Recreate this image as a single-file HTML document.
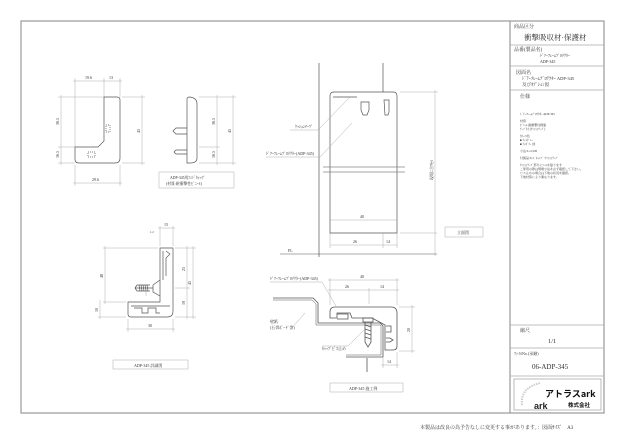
<!DOCTYPE html>
<html><head><meta charset="utf-8"><style>
html,body{margin:0;padding:0;background:#fff;width:624px;height:442px;overflow:hidden}
svg{display:block}
text{font-family:"Liberation Serif","Noto Serif CJK SC","Noto Sans CJK JP",serif;fill:#333}
</style></head><body>
<svg width="624" height="442" viewBox="0 0 624 442" xmlns="http://www.w3.org/2000/svg">
<g fill="none" stroke="#999" stroke-width="1.2">
<rect x="21" y="21" width="583" height="392"/>
<line x1="510" y1="21" x2="510" y2="413"/>
</g>
<!-- title block -->
<g fill="none" stroke="#aaa" stroke-width="0.8">
<line x1="510" y1="45" x2="604" y2="45"/>
<line x1="510" y1="66" x2="604" y2="66"/>
<line x1="510" y1="90" x2="604" y2="90"/>
<line x1="510" y1="325" x2="604" y2="325"/>
<line x1="510" y1="348" x2="604" y2="348"/>
<line x1="510" y1="376" x2="604" y2="376"/>
<rect x="514" y="379" width="87" height="31"/>
</g>
<g font-size="5">
<text x="514" y="28">商品区分</text>
<text x="524" y="40" font-size="7.5">衝撃吸収材·保護材</text>
<text x="514" y="51">品番(製品名)</text>
<text x="540" y="57" font-size="4">ﾄﾞｱｰﾌﾚｰﾑﾌﾟﾛﾃｸﾀｰ</text>
<text x="540" y="63" font-size="4">ADP-345</text>
<text x="516" y="74">図面名</text>
<text x="522" y="80" font-size="4.5">ﾄﾞｱｰﾌﾚｰﾑﾌﾟﾛﾃｸﾀｰ ADP-345</text>
<text x="522" y="86" font-size="4.5">及びｵﾌﾟｼｮﾝ図</text>
<text x="520" y="98">仕様</text>
<g font-size="3">
<text x="520" y="115">ﾄﾞｱｰﾌﾚｰﾑﾌﾟﾛﾃｸﾀｰ ADP-345</text>
<text x="520" y="122">材質</text>
<text x="520" y="126">ﾋﾞﾆｰﾙ 耐衝撃性樹脂</text>
<text x="520" y="130">ﾃｰﾌﾟ付 (ｸｯｼｮﾝﾃｰﾌﾟ)</text>
<text x="520" y="137">ｶﾗｰ:5色</text>
<text x="520" y="141">■ ﾗｲﾄｸﾞﾚｰ</text>
<text x="520" y="145">■ ｱｲﾎﾞﾘｰ 他</text>
<text x="520" y="152">寸法:L=2,500</text>
<text x="520" y="159">付属品:ｴﾝﾄﾞｷｬｯﾌﾟ･ｸｯｼｮﾝﾃｰﾌﾟ</text>
<text x="520" y="166">ｸｯｼｮﾝﾃｰﾌﾟ部分にｼｰﾙを貼ります</text>
<text x="520" y="170">ご使用の際は現場寸法を必ず確認して下さい。</text>
<text x="520" y="174">ビス止めの場合は下地の状況を確認。</text>
<text x="520" y="178">下地材質により異なります。</text>
</g>
<text x="520" y="332">縮尺</text>
<text x="548" y="343" font-size="6.5">1/1</text>
<text x="514" y="355" font-size="4">ﾌｧｲﾙNo.(承継)</text>
<text x="532" y="369" font-size="7">06-ADP-345</text>
<text x="545" y="397" style="font-family:'Noto Sans CJK JP','Liberation Sans',sans-serif;font-weight:bold;font-size:9px;fill:#111">アトラスark</text>
<text x="568" y="407" style="font-family:'Noto Sans CJK JP','Liberation Sans',sans-serif;font-weight:bold;font-size:5.5px;fill:#111">株式会社</text>
<text x="534" y="409" style="font-family:'Liberation Sans',sans-serif;font-weight:bold;font-size:9px;fill:#222">ark</text>
<text x="420" y="429" font-size="5">本製品は改良の為予告なしに変更する事があります。：図面ｻｲｽﾞ　A3</text>
</g>
<path d="M522 405 Q520 388 540 383" fill="none" stroke="#ccc" stroke-width="2" stroke-dasharray="1.5 1"/>

<!-- drawing 1 front view -->
<g fill="none" stroke="#555" stroke-width="0.7">
<path d="M104 97 L117 97 Q120 97 120 100 L120 158 Q120 163 115 163 L79 163 Q75 163 75 159 L75 147 L98 147 L104 141 Z"/>
<rect x="106" y="125" width="4" height="7" stroke-dasharray="1 1"/>
<rect x="88" y="152" width="7" height="5" stroke-dasharray="1 1"/>
<path d="M187 99 Q187 97 190 97 Q197 98 197 104 L197 158 Q197 163 190 163 L187 163 Z"/>
<path d="M187 128 L176 128 L173 131 L176 134 L187 134"/>
<path d="M187 150 L176 150 L174 152 L176 154 L187 154"/>
</g>
<g fill="none" stroke="#999" stroke-width="0.4">
<path d="M75 147 V78 M104 97 V78 M120 97 V78 M73 81 H122"/>
<path d="M58 97 H104 M58 147 H75 M58 163 H75 M61 95 V165"/>
<path d="M122 97 H145 M122 163 H145 M142 95 V165"/>
<path d="M75 165 V186 M120 165 V186 M73 183 H122"/>
<path d="M199 97 H236 M199 147 H220 M199 163 H236 M217 95 V165 M233 95 V165"/>
<rect x="159" y="172" width="75" height="16"/>
</g>
<g font-size="4">
<text x="85" y="79">19.6</text><text x="109" y="79">13</text>
<text x="59" y="125" transform="rotate(-90 59 125)">36.5</text>
<text x="59" y="158" transform="rotate(-90 59 158)">16.5</text>
<text x="140" y="133" transform="rotate(-90 140 133)">45</text>
<text x="92" y="181">29.6</text>
<text x="215" y="125" transform="rotate(-90 215 125)">36.5</text>
<text x="215" y="158" transform="rotate(-90 215 158)">16.5</text>
<text x="231" y="133" transform="rotate(-90 231 133)">45</text>
<text x="170" y="179" font-size="3.8">ADP-345用ｴﾝﾄﾞｷｬｯﾌﾟ</text>
<text x="166" y="185" font-size="3.8">(材質:耐衝撃性ﾋﾞﾆｰﾙ)</text>
</g>

<!-- drawing 2 detail -->
<g fill="none" stroke="#555" stroke-width="0.7">
<path d="M160 248 L173 248 L173 311 Q173 317 167 317 L131 317 Q128 317 128 314 L128 302 L160 302 Z"/>
<path d="M163 251 V280 M166 251 L170 254 L166 258 V276 M131 306 H170"/>
<path d="M134 308 h8 v5 h6 v-5 h8 v5 h4"/>
<path d="M160 280 L153 285 L153 292 L160 296"/>
<path d="M135 288 L153 288 M137 285 L150 285 M137 291 L150 291 M135 288 L137 285 M135 288 L137 291"/>
<path d="M139 285 l1 6 M141 285 l1 6 M143 285 l1 6 M145 285 l1 6 M147 285 l1 6"/>
</g>
<g fill="none" stroke="#999" stroke-width="0.4">
<path d="M160 246 V226 M173 246 V226 M158 228 H175"/>
<path d="M103 248 H158 M103 302 H126 M98 317 H126 M105 246 V304 M100 300 V319"/>
<path d="M175 248 H196 M175 288 H190 M175 317 H196 M187 246 V319 M193 246 V319"/>
<path d="M146 288 V296 M128 319 V332 M173 319 V332 M126 329 H175"/>
<rect x="113" y="360" width="75" height="9"/>
</g>
<g font-size="4">
<text x="164" y="226">15</text>
<text x="150" y="233" font-size="3">1.2</text>
<text x="103" y="278" transform="rotate(-90 103 278)">48</text>
<text x="98" y="312" transform="rotate(-90 98 312)">10</text>
<text x="185" y="271" transform="rotate(-90 185 271)">25</text>
<text x="185" y="305" transform="rotate(-90 185 305)">19</text>
<text x="191" y="285" transform="rotate(-90 191 285)">45</text>
<text x="148" y="327">30</text>
<text x="134" y="367">ADP-345 詳細図</text>
</g>

<!-- drawing 3 elevation -->
<g fill="none" stroke="#555" stroke-width="0.7">
<path d="M319 63 V257 M383 63 V92"/>
<path d="M330 233 V96 Q330 92 334 92 L393 92 Q397 92 397 96 V233 Z"/>
<path d="M333 97 H357"/>
<path d="M361 102 h8 v8 l-2 5 h-4 l-2 -5 z M384 100 h5 v12 l-1 3 h-3 z"/>
<path d="M323 167 H405 M323 172 H405" stroke="#888"/>
<path d="M280 254 H437" stroke-width="0.5"/>
</g>
<g fill="none" stroke="#999" stroke-width="0.4">
<path d="M330 220 H397 M330 233 V248 M383 233 V248 M397 233 V248 M330 245 H397 M400 233 H437"/>
<path d="M400 92 H438 M435 90 V256"/>
<path d="M290 130 H318 L350 97 M266 157 H320 L352 123"/>
<rect x="445" y="227" width="38" height="10"/>
</g>
<g font-size="4">
<text x="360" y="218">40</text>
<text x="353" y="243">26</text><text x="386" y="243">14</text>
<text x="288" y="252">FL</text>
<text x="433" y="180" transform="rotate(-90 433 180)">現場ﾆ合ﾜｾﾙ</text>
<text x="295" y="128">ｸｯｼｮﾝﾃｰﾌﾟ</text>
<text x="266" y="155">ﾄﾞｱｰﾌﾚｰﾑﾌﾟﾛﾃｸﾀｰ(ADP-345)</text>
<text x="457" y="234">立面図</text>
</g>

<!-- drawing 4 construction -->
<g fill="none" stroke="#555" stroke-width="0.8">
<path d="M273 298 H313 L318 303 V323 H380 L383 326 V357 H346"/>
<path d="M273 300 H312 L316 304 V325 H380 L381 326 V355 H346" stroke-width="0.5"/>
<path d="M330 312 Q330 307 335 307 L391 307 Q397 307 397 313 L397 346 Q397 350 393 350 L385 350 L385 325 L372 318 L352 318 L350 313 L337 313 L337 318 L330 318 Z"/>
<path d="M337 314 L348 314 L348 319 L337 319"/>
<path d="M386 326 h5 v6 h-5 M386 338 h4 l3 2 l-3 2 h-4"/>
<path d="M363 318 h10 v4 h-10 z M365 322 h6 v20 l-3 5 l-3 -5 z"/>
<path d="M365 325 l6 2 M365 329 l6 2 M365 333 l6 2 M365 337 l6 2"/>
<path d="M367 358 V372"/>
</g>
<g fill="none" stroke="#999" stroke-width="0.4">
<path d="M270 282 H322 L336 306"/>
<path d="M330 305 V278 M397 305 V278 M328 280 H399 M369 304 V288 M328 290 H399"/>
<path d="M399 307 H415 M399 351 H415 M412 305 V353"/>
<path d="M383 358 V368 M397 352 V368 M381 365 H399"/>
<path d="M290 330 L305 313 M322 346 L348 346 L364 330"/>
<rect x="330" y="383" width="73" height="9"/>
</g>
<g font-size="4">
<text x="270" y="280">ﾄﾞｱｰﾌﾚｰﾑﾌﾟﾛﾃｸﾀｰ(ADP-345)</text>
<text x="360" y="278">40</text>
<text x="345" y="288">26</text><text x="380" y="288">14</text>
<text x="410" y="332" transform="rotate(-90 410 332)">20</text>
<text x="387" y="363">14</text>
<text x="270" y="323">壁紙</text>
<text x="270" y="329">(石膏ﾎﾞｰﾄﾞ等)</text>
<text x="322" y="350">ｷｬｯﾌﾟﾋﾞｽ止め</text>
<text x="349" y="390">ADP-345 施工例</text>
</g>
</svg>
</body></html>
